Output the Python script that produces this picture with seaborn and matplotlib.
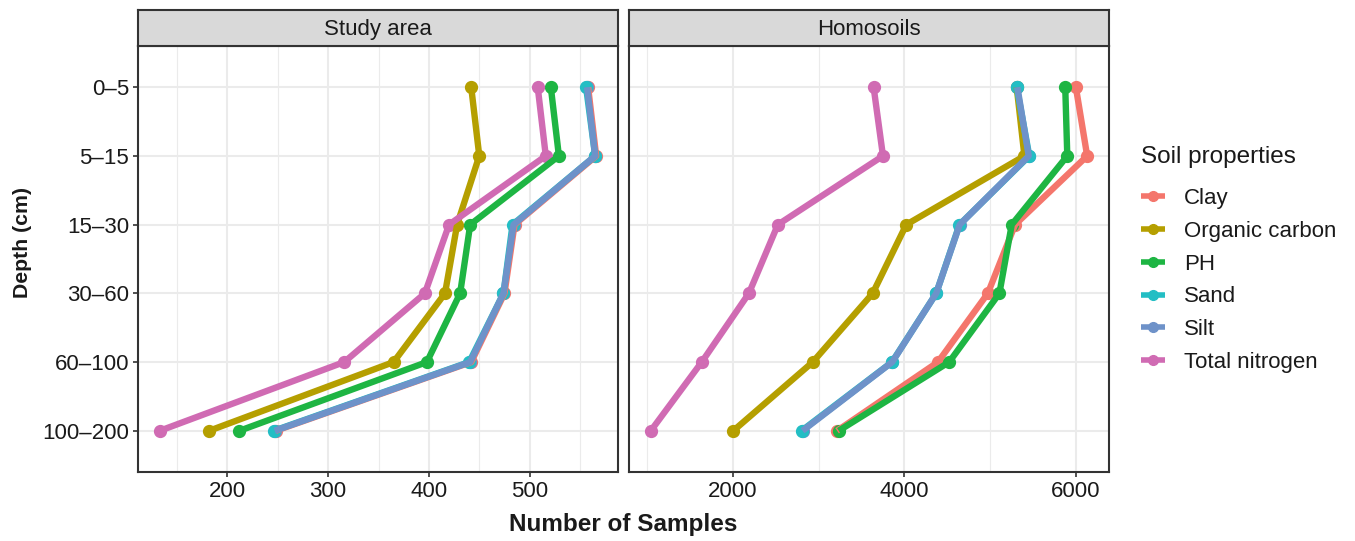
import numpy as np
import pandas as pd
import matplotlib
matplotlib.use("Agg")
import matplotlib.pyplot as plt
import seaborn as sns
from matplotlib.lines import Line2D
from matplotlib.ticker import MultipleLocator

# ---------------- data ----------------
depths = ["0–5", "5–15", "15–30", "30–60", "60–100", "100–200"]
properties = ["Clay", "Organic carbon", "PH", "Sand", "Silt", "Total nitrogen"]
panels = ["Study area", "Homosoils"]

study_clay = [558, 566, 485, 475, 442, 248]
study_oc = [442, 450, 428, 416, 365, 182]
study_ph = [521, 529, 441, 431, 398, 212]
study_sand = [556, 565, 483, 474, 440, 246]
study_silt = [557, 565, 484, 474, 441, 247]
study_tn = [508, 516, 420, 396, 316, 133]

homo_clay = [6000, 6132, 5291, 4973, 4391, 3215]
homo_oc = [5310, 5400, 4022, 3630, 2931, 2004]
homo_ph = [5876, 5900, 5252, 5108, 4522, 3234]
homo_sand = [5310, 5457, 4642, 4371, 3855, 2800]
homo_silt = [5318, 5450, 4645, 4371, 3858, 2812]
homo_tn = [3641, 3750, 2524, 2186, 1636, 1042]

colors = ["#F4766C", "#B59F00", "#1EB543", "#23BEC4", "#6E92C9", "#D06BB3"]

series = {
    "Study area": [study_clay, study_oc, study_ph, study_sand, study_silt, study_tn],
    "Homosoils": [homo_clay, homo_oc, homo_ph, homo_sand, homo_silt, homo_tn],
}

rows = []
for panel in panels:
    for prop, vals in zip(properties, series[panel]):
        for d, v in zip(depths, vals):
            rows.append({"panel": panel, "prop": prop, "depth": d, "n": v})
df = pd.DataFrame(rows)

# point drawing order (sand points end up above silt points)
point_order = ["Clay", "Organic carbon", "PH", "Silt", "Sand", "Total nitrogen"]

# ---------------- style ----------------
sns.set_theme(style="white")
plt.rcParams["font.family"] = ["Liberation Sans", "DejaVu Sans"]
TXT = "#1a1a1a"
DARK = "#333333"
GRID = "#EBEBEB"

W, H = 1355, 541
fig = plt.figure(figsize=(W / 100, H / 100), dpi=100)


def rect(l, t, r, b):
    return [l / W, 1 - b / H, (r - l) / W, (b - t) / H]


panel_boxes = [(138, 46, 618, 472), (629, 46, 1109, 472)]
majors = [100, 2000]
minors = [50, 1000]

palette = dict(zip(properties, colors))

for panel, box, mj, mn in zip(panels, panel_boxes, majors, minors):
    ax = fig.add_axes(rect(*box))
    sub = df[df["panel"] == panel]
    # points layer first, then lines layer (like ggplot layers)
    sns.pointplot(data=sub, x="n", y="depth", hue="prop", order=depths,
                  hue_order=point_order, palette=palette, orient="h",
                  dodge=False, errorbar=None, markers="o", linestyles="none",
                  markersize=7.5, legend=False, ax=ax)
    sns.pointplot(data=sub, x="n", y="depth", hue="prop", order=depths,
                  hue_order=properties, palette=palette, orient="h",
                  dodge=False, errorbar=None, markers="", linestyles="-",
                  linewidth=4.6, legend=False, ax=ax,
                  solid_capstyle="butt", solid_joinstyle="round")
    lo, hi = sub["n"].min(), sub["n"].max()
    pad = 0.05 * (hi - lo)
    ax.set_xlim(lo - pad, hi + pad)
    ax.set_ylim(len(depths) - 1 + 0.6, -0.6)
    ax.xaxis.set_major_locator(MultipleLocator(mj))
    ax.xaxis.set_minor_locator(MultipleLocator(mn))
    ax.grid(True, which="major", color=GRID, linewidth=1.5, zorder=0)
    ax.grid(True, which="minor", axis="x", color=GRID, linewidth=0.8, zorder=0)
    ax.set_axisbelow(True)
    ax.set_xlabel("")
    ax.set_ylabel("")
    for s in ax.spines.values():
        s.set_visible(True)
        s.set_color(DARK)
        s.set_linewidth(1.5)
    ax.tick_params(axis="both", which="major", length=3.5, width=1.2,
                   color=DARK, labelsize=16, labelcolor=TXT, pad=3,
                   left=True, bottom=True)
    ax.tick_params(axis="both", which="minor", length=0)
    if panel != panels[0]:
        ax.tick_params(axis="y", left=False, labelleft=False)

    # strip
    l, t, r, b = box
    sax = fig.add_axes(rect(l, 9.5, r, 46))
    sax.set_facecolor("#D9D9D9")
    sax.set_xticks([])
    sax.set_yticks([])
    for s in sax.spines.values():
        s.set_visible(True)
        s.set_color(DARK)
        s.set_linewidth(1.5)
    sax.text(0.5, 0.45, panel, ha="center", va="center", fontsize=16,
             color=TXT, transform=sax.transAxes)

fig.text(623 / W, 1 - 525 / H, "Number of Samples", ha="center", va="center",
         fontsize=17.5, fontweight="bold", color=TXT)
fig.text(23 / W, 1 - 243 / H, "Depth (cm)", ha="center", va="center",
         rotation=90, fontsize=15.3, fontweight="bold", color=TXT)

handles = [Line2D([0], [0], color=c, linewidth=4.0, marker="o", markersize=7,
                  solid_capstyle="butt") for c in colors]
leg = fig.legend(handles, properties, title="Soil properties",
                 loc="upper left", bbox_to_anchor=(1141 / W, 1 - 146 / H),
                 frameon=False, fontsize=16, title_fontsize=17.5,
                 handlelength=1.1, handletextpad=0.85, labelspacing=0.53,
                 borderaxespad=0, borderpad=0)
leg._legend_box.align = "left"
leg._legend_box.sep = 14.5
for t in leg.get_texts():
    t.set_color(TXT)
leg.get_title().set_color(TXT)

fig.savefig("out.png", dpi=100)
